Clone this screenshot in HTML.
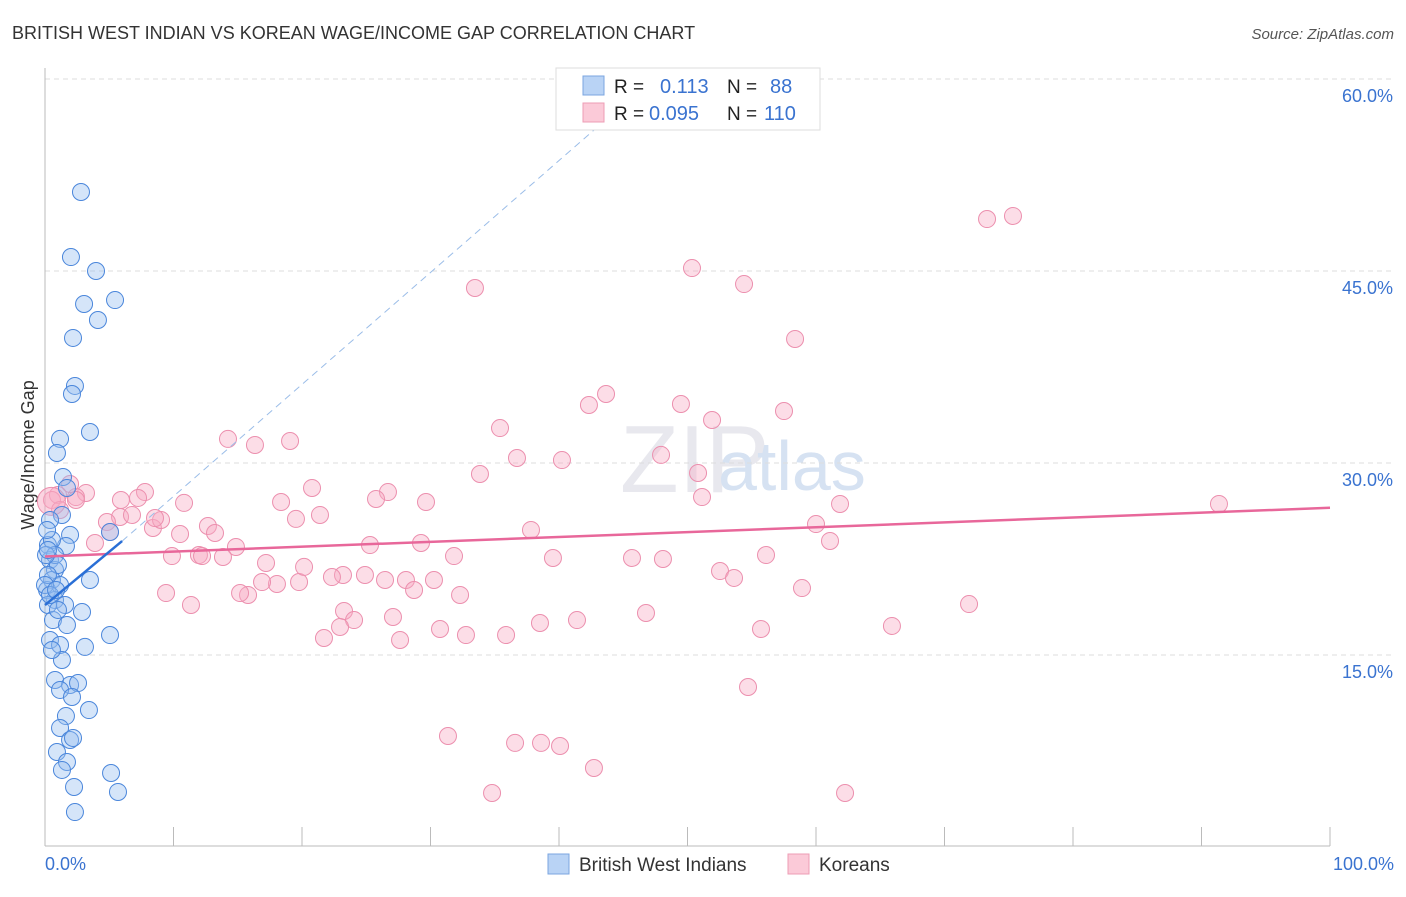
<!DOCTYPE html>
<html><head><meta charset="utf-8"><style>
body{margin:0;background:#fff;font-family:"Liberation Sans",sans-serif;}
svg text{font-family:"Liberation Sans",sans-serif;}
</style></head><body>
<svg id="c" width="1406" height="892">
<text x="12" y="39" font-size="18" fill="#333">BRITISH WEST INDIAN VS KOREAN WAGE/INCOME GAP CORRELATION CHART</text>
<text x="1394" y="39" font-size="15" fill="#555" font-style="italic" text-anchor="end">Source: ZipAtlas.com</text>
<text x="620" y="492" font-size="96" fill="#e8e8ee" font-family="Liberation Serif">ZIP</text>
<text x="718" y="490" font-size="70" fill="#d6e2f2">atlas</text>
<text x="34" y="455" font-size="18" fill="#333" transform="rotate(-90 34 455)" text-anchor="middle">Wage/Income Gap</text>
<g id="grid"></g><g id="pts"></g><g id="lines"></g>
<g>
<rect x="556" y="68" width="264" height="62" fill="#fff" stroke="#ddd"/>
<rect x="583" y="76" width="21" height="19" fill="#b9d3f5" stroke="#7ba6e0"/>
<rect x="583" y="103" width="21" height="19" fill="#fbcad8" stroke="#ee9cb5"/>
<text x="614" y="93" font-size="19" fill="#222">R = </text><text x="660" y="93" font-size="20" fill="#3a73d0">0.113</text>
<text x="727" y="93" font-size="19" fill="#222">N = </text><text x="770" y="93" font-size="20" fill="#3a73d0">88</text>
<text x="614" y="120" font-size="19" fill="#222">R = </text><text x="649" y="120" font-size="20" fill="#3a73d0">0.095</text>
<text x="727" y="120" font-size="19" fill="#222">N = </text><text x="764" y="120" font-size="20" fill="#3a73d0">110</text>
</g>
<g>
<rect x="548" y="854" width="21" height="20" fill="#b9d3f5" stroke="#7ba6e0"/>
<text x="579" y="871" font-size="19" fill="#333">British West Indians</text>
<rect x="788" y="854" width="21" height="20" fill="#fbcad8" stroke="#ee9cb5"/>
<text x="819" y="871" font-size="19" fill="#333">Koreans</text>
</g>
<text x="45" y="870" font-size="18" fill="#3a73d0">0.0%</text>
<text x="1394" y="870" font-size="18" fill="#3a73d0" text-anchor="end">100.0%</text>
</svg>
<script>
const yTicks=[15,30,45,60];
const yTickLabels=["15.0%","30.0%","45.0%","60.0%"];
const bluePx=[[81,192],[71,257],[96,271],[84,304],[115,300],[98,320],[73,338],[75,386],[72,394],[90,432],[60,439],[57,453],[63,477],[67,488],[62,515],[70,535],[66,546],[48,545],[50,560],[55,570],[52,580],[47,590],[60,585],[55,600],[48,605],[65,605],[53,620],[82,612],[67,625],[110,635],[50,640],[85,647],[60,645],[62,660],[90,580],[55,680],[70,685],[78,683],[60,690],[72,697],[89,710],[66,716],[60,728],[70,740],[73,738],[57,752],[67,762],[62,770],[111,773],[74,787],[118,792],[75,812],[52,540],[50,520],[47,530],[55,555],[58,565],[48,575],[45,585],[50,595],[58,610],[46,555],[52,650],[48,550],[56,590],[110,532]];
const pinkPx=[[987,219],[1013,216],[692,268],[744,284],[475,288],[795,339],[606,394],[589,405],[681,404],[784,411],[712,420],[500,428],[228,439],[255,445],[290,441],[517,458],[562,460],[661,455],[480,474],[698,473],[702,497],[840,504],[1219,504],[816,524],[830,541],[531,530],[766,555],[632,558],[663,559],[553,558],[720,571],[734,578],[802,588],[969,604],[646,613],[577,620],[540,623],[761,629],[892,626],[506,635],[466,635],[440,629],[400,640],[748,687],[448,736],[515,743],[541,743],[560,746],[594,768],[492,793],[845,793],[426,502],[388,492],[376,499],[312,488],[281,502],[296,519],[320,515],[370,545],[421,543],[454,556],[406,580],[434,580],[460,595],[414,590],[385,580],[343,575],[365,575],[332,577],[299,582],[277,584],[262,582],[248,595],[240,593],[304,567],[266,563],[236,547],[223,557],[208,526],[215,533],[199,555],[202,556],[180,534],[172,556],[166,593],[191,605],[153,528],[161,520],[145,492],[138,498],[121,500],[120,517],[132,515],[107,522],[110,532],[95,543],[86,493],[76,497],[70,484],[58,495],[52,500],[60,510],[76,500],[184,503],[155,518],[344,611],[354,620],[324,638],[340,627],[393,617]];
// convert picture positions to data values (x %, y %)
const blueX=bluePx.map(p=>+((p[0]-45)/12.85).toFixed(2)), blueY=bluePx.map(p=>+((847-p[1])/12.8).toFixed(2));
const pinkX=pinkPx.map(p=>+((p[0]-45)/12.85).toFixed(2)), pinkY=pinkPx.map(p=>+((847-p[1])/12.8).toFixed(2));
const blueTrend=[[0,18.9],[6,23.9]], blueDash=[[6,23.9],[45,58]];
const pinkTrend=[[0,22.7],[100,26.5]];
const X=v=>45+v*12.85, Y=v=>847-v*12.8;
const NS="http://www.w3.org/2000/svg";
function mk(t,a,p){const e=document.createElementNS(NS,t);for(const k in a)e.setAttribute(k,a[k]);p.appendChild(e);return e;}
const g=document.getElementById('grid');
yTicks.forEach((t,i)=>{
 const l=mk('line',{x1:45,x2:1394,y1:Y(t),y2:Y(t),stroke:'#ddd','stroke-dasharray':'5,4'},g);
 
 
 const tx=mk('text',{x:1393,y:Y(t)+23,'font-size':18,fill:'#3a73d0','text-anchor':'end'},g);tx.textContent=yTickLabels[i];
 
 
});
mk('line',{x1:45,x2:1394,y1:Y(60)+0,y2:Y(60),stroke:'#ddd','stroke-dasharray':'5,4'},g);
mk('line',{x1:45,x2:45,y1:68,y2:846,stroke:'#bbb'},g);
mk('line',{x1:45,x2:1330,y1:846,y2:846,stroke:'#bbb'},g);
for(let i=0;i<=10;i++){const t=mk('line',{x1:X(i*10),x2:X(i*10),y1:827,y2:846,stroke:'#bbb'},g);
 
 }
const P=document.getElementById('pts');
pinkX.forEach((x,i)=>{const c=mk('circle',{cx:X(x),cy:Y(pinkY[i]),r:8.5,fill:'rgba(248,170,195,0.4)',stroke:'#ec8fae','stroke-width':1},P);
 
 });
const big=mk('circle',{cx:X(0.5),cy:Y(27),r:14,fill:'rgba(248,170,195,0.5)',stroke:'#ec8fae'},P);


blueX.forEach((x,i)=>{const c=mk('circle',{cx:X(x),cy:Y(blueY[i]),r:8.5,fill:'rgba(150,190,240,0.4)',stroke:'#4a86db','stroke-width':1},P);
 
 });
const L=document.getElementById('lines');
const a=mk('line',{x1:X(pinkTrend[0][0]),y1:Y(pinkTrend[0][1]),x2:X(pinkTrend[1][0]),y2:Y(pinkTrend[1][1]),stroke:'#e8679a','stroke-width':2.5},L);


const b=mk('line',{x1:X(blueDash[0][0]),y1:Y(blueDash[0][1]),x2:X(blueDash[1][0]),y2:Y(blueDash[1][1]),stroke:'#9bbde8','stroke-width':1,'stroke-dasharray':'7,5'},L);


const c=mk('line',{x1:X(blueTrend[0][0]),y1:Y(blueTrend[0][1]),x2:X(blueTrend[1][0]),y2:Y(blueTrend[1][1]),stroke:'#2a6fd6','stroke-width':2.5},L);


</script>
</body></html>
